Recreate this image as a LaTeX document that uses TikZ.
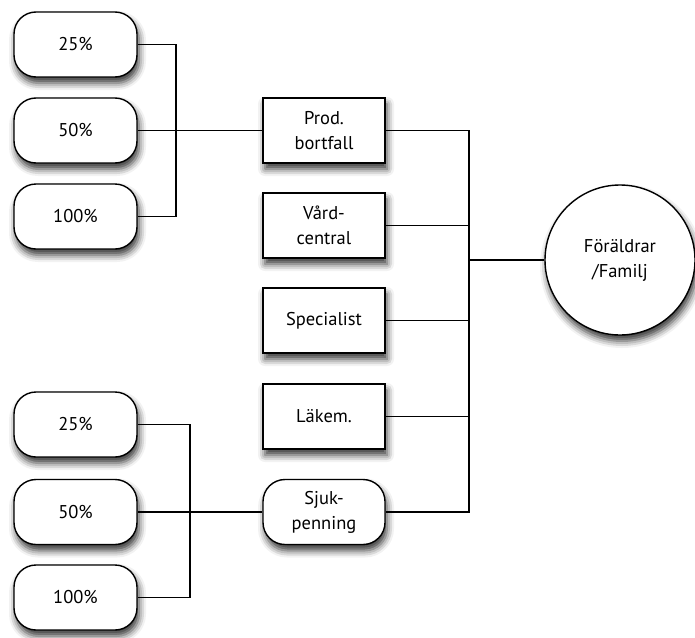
\documentclass[tikz,border=0pt]{standalone}
\usepackage{fontspec}
\setmainfont{PT Sans}
\usetikzlibrary{shadows.blur,shapes.geometric}
\begin{document}
\begin{tikzpicture}[x=1pt,y=-1pt,
  shade/.style={blur shadow={shadow xshift=2pt,shadow yshift=-6pt,shadow blur radius=7pt,shadow opacity=80}},
  label font/.style={font=\fontsize{18.5}{25}\selectfont},
  pill/.style={draw,line width=1.4pt,fill=white,rounded corners=22pt,minimum width=123pt,minimum height=65pt,label font,align=center,shade},
  boxnode/.style={draw,line width=1.4pt,fill=white,minimum width=122pt,minimum height=65pt,label font,align=center,shade},
  link/.style={line width=1.1pt}]
\useasboundingbox (0,0) rectangle (695,637);
% left groups
\node[pill] (a25) at (75.5,44.5) {25\%};
\node[pill] (a50) at (75.5,130.5) {50\%};
\node[pill] (a100) at (75.5,216.5) {100\%};
\node[pill] (b25) at (75.5,424.5) {25\%};
\node[pill] (b50) at (75.5,512) {50\%};
\node[pill] (b100) at (75.5,597.5) {100\%};
% middle column
\node[boxnode] (prod) at (324,130.5) {Prod.\\bortfall};
\node[boxnode] (vard) at (324,225.5) {Vård-\\central};
\node[boxnode] (spec) at (324,320.5) {Specialist};
\node[boxnode] (lakem) at (324,416.5) {Läkem.};
\node[pill,minimum width=122pt] (sjuk) at (324,512) {Sjuk-\\penning};
% right
\node[draw,circle,line width=1.4pt,fill=white,minimum size=150pt,inner sep=0pt,label font,align=center,shade] (fam) at (620,260) {Föräldrar\\/Familj};
% connectors
\coordinate (ka) at (176,0);
\coordinate (kc) at (190,0);
\coordinate (kb) at (469,0);
\draw[link] (a25.east) -| (ka |- a100.east) -- (a100.east);
\draw[link] (a50.east) -- (prod.west);
\draw[link] (b25.east) -| (kc |- b100.east) -- (b100.east);
\draw[link] (b50.east) -- (sjuk.west);
\draw[link] (prod.east) -| (kb |- sjuk.east) -- (sjuk.east);
\draw[link] (vard.east) -- (kb |- vard.east);
\draw[link] (spec.east) -- (kb |- spec.east);
\draw[link] (lakem.east) -- (kb |- lakem.east);
\draw[link] (kb |- fam.west) -- (fam.west);
\end{tikzpicture}
\end{document}
